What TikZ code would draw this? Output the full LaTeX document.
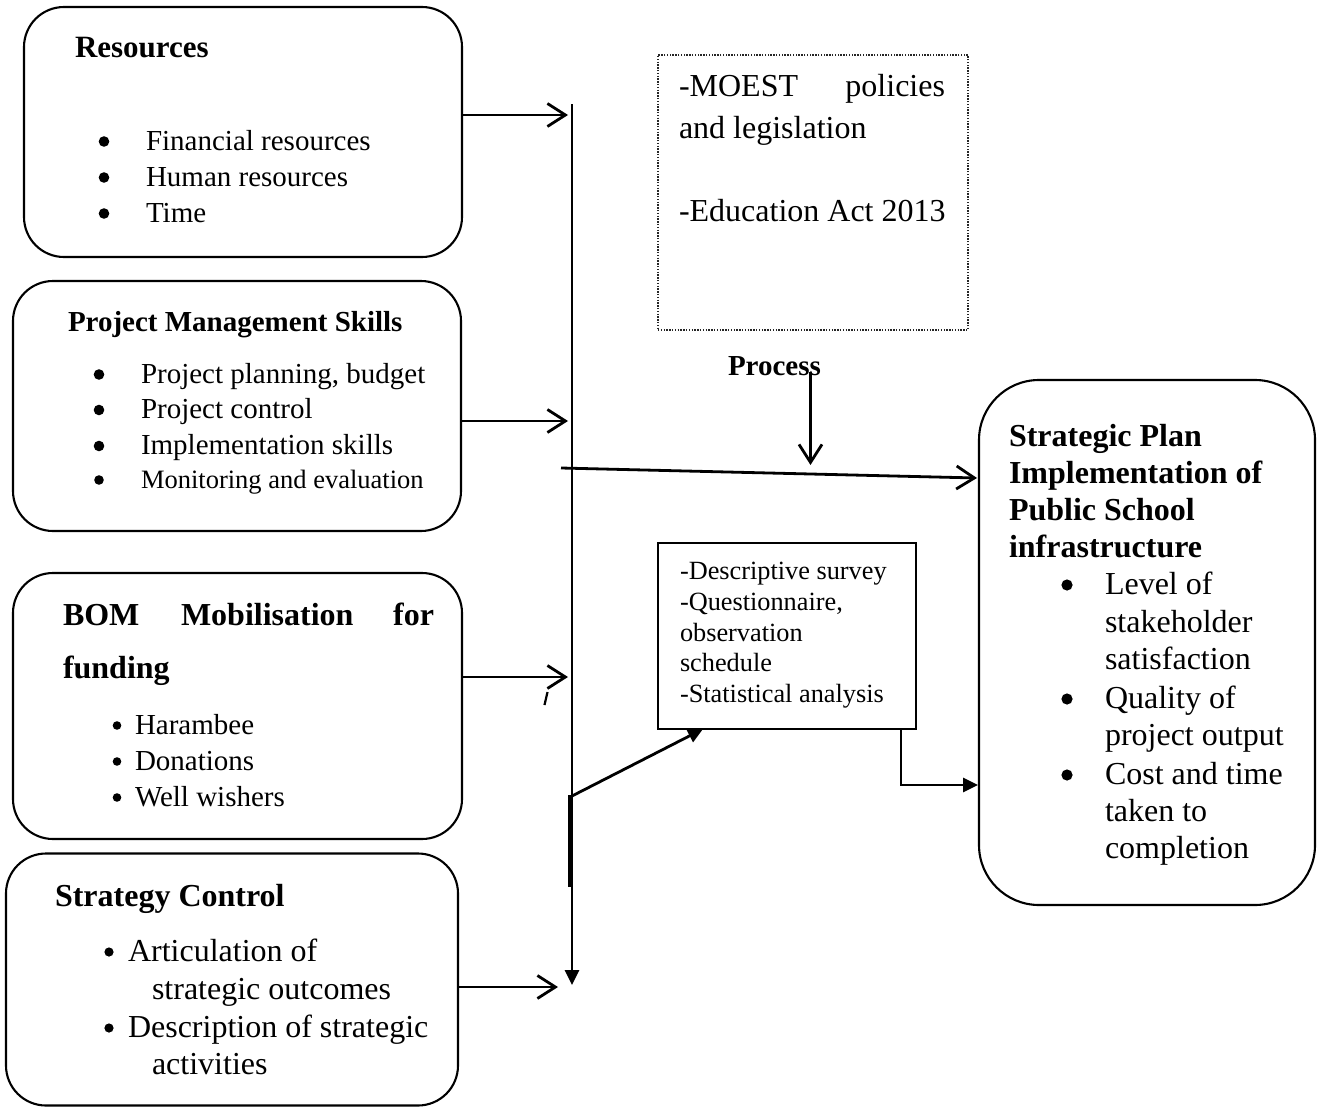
\documentclass[tikz,border=0pt]{standalone}
\usepackage{fontspec}
\setmainfont{Liberation Serif}
\usetikzlibrary{arrows.meta,calc}
\newcommand\fsz[1]{\fontsize{#1}{#1}\selectfont}

\begin{document}
\begin{tikzpicture}[x=1pt,y=-1pt,
  box/.style={draw, line width=2.1pt, rounded corners=40pt, inner sep=0pt},
  plainbox/.style={draw, line width=2.1pt, inner sep=0pt},
  dotbox/.style={draw=black!85, line width=1.6pt, dash pattern=on 1.4pt off 1.4pt, inner sep=0pt},
  txt/.style={anchor=base west, inner sep=0pt, outer sep=0pt},
  txte/.style={anchor=base east, inner sep=0pt, outer sep=0pt},
  link/.style={line width=2.8pt},
  openarrow/.style={link, -{Straight Barb[length=18pt,width=23pt]}},
  solidarrow/.style={link, -{Triangle[length=15pt,width=14pt]}},
]
\useasboundingbox (0,0) rectangle (1317,1108);

% ---------- input boxes ----------
\node[box, minimum width=438pt, minimum height=250pt] (res) at (243,132) {};
\node[box, minimum width=448pt, minimum height=250pt] (pms) at (237,406) {};
\node[box, minimum width=449pt, minimum height=266pt] (bom) at (237.5,706) {};
\node[box, minimum width=452pt, minimum height=252pt] (stc) at (232,979.5) {};

% Resources
\node[txt, font=\fsz{31}\bfseries] (resH) at (75,58) {Resources};
\foreach \t/\y [count=\i] in {Financial resources/150, Human resources/186, Time/222}{
  \node[txt, font=\fsz{29}] (res\i) at (146,\y) {\t};
  \fill (104,\y-8.5) circle (5.3pt);
}

% Project Management Skills
\node[txt, font=\fsz{29}\bfseries] (pmsH) at (68,331) {Project Management Skills};
\foreach \t/\y [count=\i] in {Project planning{,} budget/383, Project control/418.5, Implementation skills/454.5}{
  \node[txt, font=\fsz{29}] (pms\i) at (141,\y) {\t};
  \fill (99,\y-8.5) circle (5.3pt);
}
\node[txt, font=\fsz{26.5}] (pms4) at (141,488) {Monitoring and evaluation};
\fill (99,480) circle (4.8pt);

% BOM Mobilisation for funding
\node[txt, font=\fsz{32}\bfseries] (bomA) at (63,625) {BOM};
\node[txt, font=\fsz{32}\bfseries] (bomB) at (181,625) {Mobilisation};
\node[txte, font=\fsz{32}\bfseries] (bomC) at (434,625) {for};
\node[txt, font=\fsz{32}\bfseries] (bomD) at (63,678) {funding};
\foreach \t/\y [count=\i] in {Harambee/734, Donations/770, Well wishers/806}{
  \node[txt, font=\fsz{29}] (bom\i) at (135,\y) {\t};
  \fill (117,\y-8.5) circle (4.3pt);
}

% Strategy Control
\node[txt, font=\fsz{32}\bfseries] (stcH) at (55,906) {Strategy Control};
\node[txt, font=\fsz{32}] (stc1) at (128,961) {Articulation of};
\node[txt, font=\fsz{32}] (stc2) at (152,999) {strategic outcomes};
\node[txt, font=\fsz{32}] (stc3) at (128,1037) {Description of strategic};
\node[txt, font=\fsz{32}] (stc4) at (152,1074) {activities};
\fill (109,952) circle (4.6pt);
\fill (109,1028) circle (4.6pt);

% ---------- policy box ----------
\node[dotbox, minimum width=310pt, minimum height=275pt] (law) at (813,192.5) {};
\node[txt, font=\fsz{32}] (law1) at (679,96) {-MOEST};
\node[txte, font=\fsz{32}] (law2) at (945,96) {policies};
\node[txt, font=\fsz{32}] (law3) at (679,138) {and legislation};
\node[txt, font=\fsz{32}] (law4) at (679,221) {-Education Act 2013};

\node[txt, font=\fsz{29}\bfseries] (proc) at (728,375) {Process};

% ---------- methodology box ----------
\node[plainbox, minimum width=258pt, minimum height=186pt] (meth) at (787,636) {};
\foreach \t/\y [count=\i] in {-Descriptive survey/579, -Questionnaire{,}/610, observation/641, schedule/671, -Statistical analysis/702}{
  \node[txt, font=\fsz{26.3}] (meth\i) at (680,\y) {\t};
}

% ---------- outcome box ----------
\node[box, rounded corners=60pt, minimum width=336pt, minimum height=525pt] (outc) at (1147,642.5) {};
\foreach \t/\y [count=\i] in {Strategic Plan/446, Implementation of/483, Public School/520, infrastructure/557}{
  \node[txt, font=\fsz{32}\bfseries] (outH\i) at (1009,\y) {\t};
}
\foreach \t/\y [count=\i] in {Level of/594, stakeholder/632, satisfaction/669, Quality of/708, project output/745, Cost and time/784, taken to/821, completion/858}{
  \node[txt, font=\fsz{32}] (out\i) at (1105,\y) {\t};
}
\foreach \y in {585,699,775}{ \fill (1067,\y) circle (5.6pt); }

% ---------- connectors ----------
\coordinate (busT) at (572,104);
\coordinate (busB) at (572,985);
\draw[solidarrow] (busT) -- (busB);
\coordinate (thkT) at (569.5,795);
\coordinate (thkB) at (569.5,887);
\draw[link] (thkT) -- (thkB);

\coordinate (inR) at (568,115);
\coordinate (inP) at (568,421);
\coordinate (inB) at (568,677);
\coordinate (inS) at (558,987);
\draw[openarrow] (res.east |- inR) -- (inR);
\draw[openarrow] (pms.east |- inP) -- (inP);
\draw[openarrow] (bom.east |- inB) -- (inB);
\draw[openarrow] (stc.east |- inS) -- (inS);

% tick beside the bus
\coordinate (tk1) at (547.5,692);
\coordinate (tk2) at (544.5,705);
\draw[line width=2.2pt] (tk1) -- (tk2);

% main flow into the outcome
\coordinate (jS) at (561,468);
\coordinate (jE) at (977,478);
\draw[openarrow] (jS) -- (jE);

% process arrow
\coordinate (pT) at (810.5,372);
\coordinate (pE) at (810.5,465);
\draw[openarrow] (pT) -- (pE);

% bus to methodology
\coordinate (dS) at (572,796);
\coordinate (dE) at (703,729);
\draw[solidarrow] (dS) -- (dE);

% methodology to outcome
\coordinate (mO) at (901,729);
\coordinate (oI) at (978,785);
\draw[solidarrow] (mO) |- (oI);
\end{tikzpicture}
\end{document}
